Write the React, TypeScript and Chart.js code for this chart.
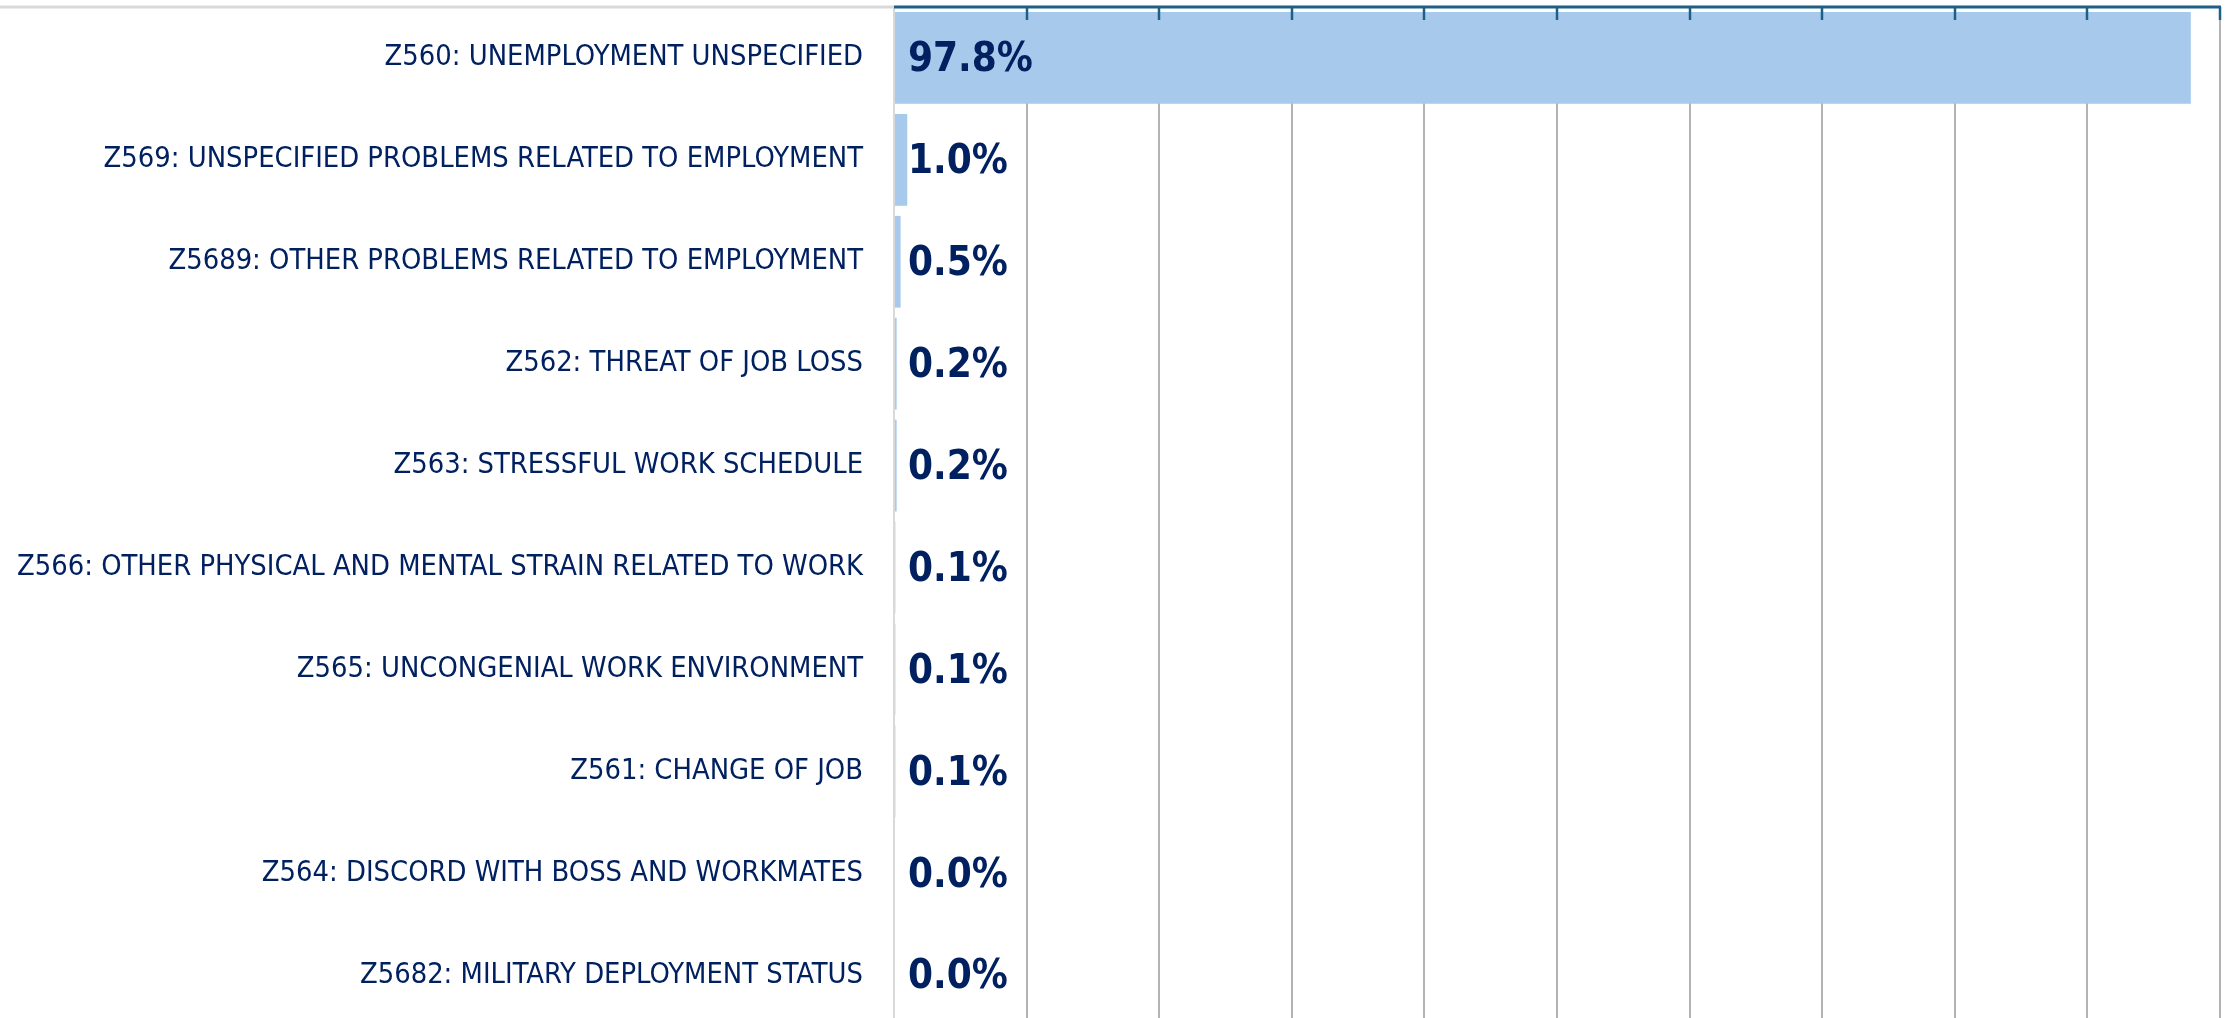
import React, { useEffect, useRef } from "react";
import { Chart, registerables } from "chart.js";

Chart.register(...registerables);

const categories = [
  "Z560: UNEMPLOYMENT UNSPECIFIED",
  "Z569: UNSPECIFIED PROBLEMS RELATED TO EMPLOYMENT",
  "Z5689: OTHER PROBLEMS RELATED TO EMPLOYMENT",
  "Z562: THREAT OF JOB LOSS",
  "Z563: STRESSFUL WORK SCHEDULE",
  "Z566: OTHER PHYSICAL AND MENTAL STRAIN RELATED TO WORK",
  "Z565: UNCONGENIAL WORK ENVIRONMENT",
  "Z561: CHANGE OF JOB",
  "Z564: DISCORD WITH BOSS AND WORKMATES",
  "Z5682: MILITARY DEPLOYMENT STATUS",
];

const shares = [97.8, 1.0, 0.5, 0.2, 0.2, 0.1, 0.1, 0.1, 0.0, 0.0];

const axisMin = 0;
const axisMax = 100;
const axisStep = 10;

const FONT = "'DejaVu Sans Condensed', 'DejaVu Sans', sans-serif";
const NAVY = "#002060";
const BAR = "#a6c9ec";
const AXIS = "#1f5f87";

const decorPlugin = {
  id: "decor",
  beforeDraw(chart: any) {
    const { ctx, chartArea } = chart;
    ctx.save();
    ctx.strokeStyle = "#d9d9d9";
    ctx.lineWidth = 3;
    ctx.beginPath();
    ctx.moveTo(0, chartArea.top);
    ctx.lineTo(chartArea.left, chartArea.top);
    ctx.stroke();
    ctx.restore();
  },
  afterDatasetsDraw(chart: any) {
    const { ctx, chartArea } = chart;
    const xs = chart.scales.x;
    ctx.save();
    const meta = chart.getDatasetMeta(0);
    ctx.font = `bold 40px ${FONT}`;
    ctx.fillStyle = NAVY;
    ctx.textAlign = "left";
    ctx.textBaseline = "middle";
    meta.data.forEach((bar: any, i: number) => {
      const v = chart.data.datasets[0].data[i] as number;
      ctx.fillText(v.toFixed(1) + "%", chartArea.left + 14, bar.y + 3);
    });
    ctx.strokeStyle = AXIS;
    ctx.lineWidth = 3;
    ctx.beginPath();
    ctx.moveTo(chartArea.left, chartArea.top);
    ctx.lineTo(chartArea.right + 1, chartArea.top);
    ctx.stroke();
    ctx.lineWidth = 2.5;
    for (let v = axisMin + axisStep; v <= axisMax; v += axisStep) {
      const x = Math.round(xs.getPixelForValue(v));
      ctx.beginPath();
      ctx.moveTo(x, chartArea.top);
      ctx.lineTo(x, chartArea.top + 13);
      ctx.stroke();
    }
    ctx.restore();
  },
};

export default function App() {
  const ref = useRef<HTMLCanvasElement | null>(null);

  useEffect(() => {
    if (!ref.current) return;
    const chart = new Chart(ref.current, {
      type: "bar",
      data: {
        labels: categories,
        datasets: [
          {
            data: shares,
            backgroundColor: BAR,
            borderWidth: 0,
            categoryPercentage: 1,
            barPercentage: 0.9,
          },
        ],
      },
      options: {
        indexAxis: "y",
        responsive: false,
        animation: false,
        devicePixelRatio: 1,
        layout: { padding: { top: 7, right: 16, bottom: 7, left: 0 } },
        plugins: { legend: { display: false }, tooltip: { enabled: false } },
        scales: {
          x: {
            position: "top",
            min: axisMin,
            max: axisMax,
            ticks: { display: false, stepSize: axisStep },
            grid: {
              drawTicks: false,
              lineWidth: 2,
              color: (c: any) => (c.index === 0 ? "#d9d9d9" : "#b3b3b3"),
            },
            border: { display: false },
          },
          y: {
            ticks: {
              color: NAVY,
              font: { family: FONT, size: 28.8 },
              padding: 31,
            },
            grid: { display: false, drawTicks: false },
            border: { display: false },
            afterFit: (s: any) => {
              s.width = 894;
              s.paddingTop = 0;
              s.paddingBottom = 0;
            },
          },
        },
      },
      plugins: [decorPlugin],
    });
    return () => chart.destroy();
  }, []);

  return (
    <div
      style={{
        position: "fixed",
        top: 0,
        left: 0,
        width: 2236,
        height: 1018,
        overflow: "hidden",
        background: "#ffffff",
      }}
    >
      <canvas ref={ref} width={2236} height={1033} style={{ display: "block" }} />
    </div>
  );
}
